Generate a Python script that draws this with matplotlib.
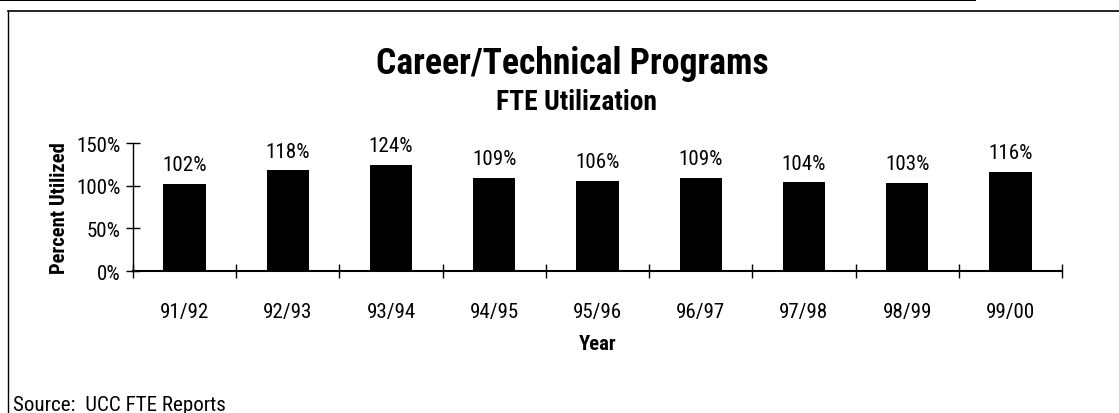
import matplotlib
matplotlib.use("Agg")
import matplotlib.pyplot as plt
from matplotlib import font_manager as fm
from matplotlib.lines import Line2D

years = ["91/92", "92/93", "93/94", "94/95", "95/96", "96/97", "97/98", "98/99", "99/00"]
utilization = [102, 118, 124, 109, 106, 109, 104, 103, 116]
y_ticks = [0, 50, 100, 150]
y_tick_labels = ["0%", "50%", "100%", "150%"]

available = {f.name for f in fm.fontManager.ttflist}
preferred = ["Liberation Sans Narrow", "Nimbus Sans Narrow", "Arimo Narrow",
             "Roboto Condensed", "Archivo Narrow", "PT Sans Narrow", "Liberation Sans"]
FONT = next((f for f in preferred if f in available), "DejaVu Sans")
plt.rcParams['font.family'] = [FONT, 'DejaVu Sans']

W, H = 1119, 414
fig = plt.figure(figsize=(W / 100, H / 100), dpi=100)
fig.patch.set_facecolor("white")
renderer = fig.canvas.get_renderer()

def fx(px):
    return px / W

def fy(py):
    return 1 - py / H

def fit(text, target_px, weight="normal"):
    t = fig.text(0, 0, text, fontsize=20, fontweight=weight)
    w = t.get_window_extent(renderer).width
    t.remove()
    return 20 * target_px / w

FS = fit("Source:  UCC FTE Reports", 212)
FSB = fit("Percent Utilized", 132, "bold")
FT = fit("Career/Technical Programs", 391, "bold")
FST = fit("FTE Utilization", 161, "bold")

ax = fig.add_axes([fx(133), fy(272), fx(1062) - fx(133), fy(144) - fy(272)])
x = list(range(len(years)))
ax.bar(x, utilization, width=0.41, color="black")
ax.set_xlim(-0.5, len(years) - 0.5)
ax.set_ylim(0, 150)
ax.set_yticks(y_ticks)
ax.set_yticklabels(y_tick_labels, fontsize=FS)
ax.set_xticks([i - 0.5 for i in range(len(years) + 1)])
ax.set_xticklabels([])
ax.set_xticks(x, minor=True)
ax.set_xticklabels(years, minor=True, fontsize=FS)
ax.tick_params(axis="x", which="minor", length=0, pad=22)
ax.tick_params(axis="x", which="major", direction="inout", length=10, width=1)
ax.tick_params(axis="y", direction="inout", length=10, width=1, pad=4)
for s in ["top", "right"]:
    ax.spines[s].set_visible(False)
ax.spines["left"].set_linewidth(1.0)
ax.spines["bottom"].set_linewidth(1.5)

for xi, v in zip(x, utilization):
    ax.annotate(f"{v}%", (xi, v), xytext=(0, 7), textcoords="offset points",
                ha="center", va="bottom", fontsize=FS)

ax.set_ylabel("Percent Utilized", fontsize=FSB, fontweight="bold", labelpad=5)
ax.set_xlabel("Year", fontsize=FSB, fontweight="bold", labelpad=10)

fig.text(fx(572), fy(64), "Career/Technical Programs", ha="center", va="center",
         fontsize=FT, fontweight="bold")
fig.text(fx(577), fy(103), "FTE Utilization", ha="center", va="center",
         fontsize=FST, fontweight="bold")
fig.text(fx(13), fy(406), "Source:  UCC FTE Reports", ha="left", va="center",
         fontsize=FS)

# frame lines
fig.add_artist(Line2D([fx(8), 1], [fy(12), fy(12)], color="black", lw=1.2))
fig.add_artist(Line2D([fx(8), fx(8)], [fy(12), 0], color="black", lw=1.0))
fig.add_artist(Line2D([0, fx(975)], [fy(1), fy(1)], color="black", lw=1.5))

fig.savefig("out.png", dpi=100, facecolor="white")
